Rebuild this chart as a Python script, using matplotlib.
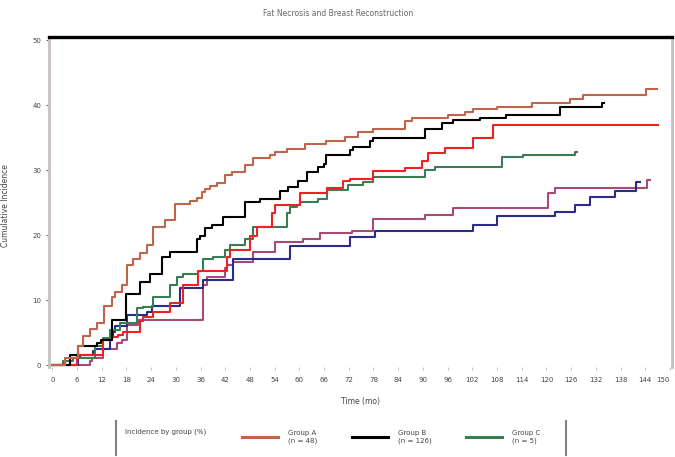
import matplotlib
matplotlib.use("Agg")
import matplotlib.pyplot as plt
from matplotlib.lines import Line2D

# ---- data (months, cumulative %) ----
brown_x = [0, 3.2, 6.3, 7.5, 9.2, 10.9, 12.6, 14.6, 15.3, 17.0, 18.2, 19.7, 21.4, 23.1, 24.5, 27.4, 29.9,
           33.5, 35.2, 36.4, 37.1, 38.3, 40.0, 42.0, 43.7, 46.8, 48.8, 52.9, 54.1, 57.0, 61.4, 66.5, 71.1,
           74.3, 77.9, 85.7, 87.4, 96.1, 100.2, 102.2, 108.0, 116.5, 125.7, 128.9, 144.2, 146.8]
brown_y = [0, 1.1, 2.9, 4.5, 5.5, 6.5, 9.1, 10.5, 11.2, 12.3, 15.4, 16.3, 17.2, 18.5, 21.2, 22.3, 24.8,
           25.2, 25.7, 26.6, 27.1, 27.5, 28.0, 29.2, 29.7, 30.8, 31.8, 32.3, 32.8, 33.2, 34.0, 34.5, 35.1,
           35.8, 36.3, 37.5, 38.0, 38.5, 38.9, 39.4, 39.8, 40.3, 40.9, 41.5, 42.5, 42.5]

black_x = [0, 4.4, 6.3, 10.9, 11.9, 14.6, 18.0, 21.4, 23.8, 26.7, 28.6, 35.2, 35.9, 37.1, 38.8, 41.5, 46.8,
           50.5, 55.3, 57.3, 59.7, 61.9, 64.6, 66.0, 66.5, 72.3, 73.1, 77.2, 77.9, 90.5, 94.7, 97.3, 103.9,
           110.2, 123.3, 133.5, 134.0]
black_y = [0, 1.5, 2.9, 3.4, 3.8, 6.9, 10.9, 12.8, 14.0, 16.6, 17.4, 19.4, 19.8, 21.1, 21.5, 22.8, 25.1,
           25.5, 26.8, 27.4, 28.3, 29.7, 30.5, 31.0, 32.3, 33.1, 33.5, 34.5, 34.9, 36.3, 37.2, 37.7, 38.0,
           38.5, 39.8, 40.3, 40.3]

red_x = [0, 6.1, 12.4, 14.6, 16.0, 17.2, 21.4, 22.1, 24.5, 28.6, 31.8, 35.4, 42.5, 43.2, 48.1, 49.8, 53.4,
         54.1, 60.2, 66.7, 70.6, 72.3, 77.9, 85.7, 89.8, 91.3, 95.4, 102.2, 107.0, 147.1]
red_y = [0, 1.5, 3.8, 4.3, 4.6, 5.1, 6.8, 7.4, 8.2, 9.5, 12.3, 14.5, 16.6, 17.7, 19.8, 21.2, 23.4,
         24.6, 26.5, 27.2, 28.3, 28.6, 29.8, 30.3, 31.4, 32.6, 33.4, 34.9, 36.9, 36.9]

green_x = [0, 2.7, 5.1, 10.4, 12.4, 14.1, 16.5, 20.6, 22.1, 24.5, 28.6, 30.3, 31.8, 35.4, 36.7, 39.1, 42.0,
           43.2, 46.8, 48.8, 57.0, 57.8, 59.5, 60.2, 64.6, 66.7, 71.8, 75.5, 77.9, 90.5, 93.0, 109.2, 114.3,
           126.9, 127.4]
green_y = [0, 0.6, 1.1, 2.9, 4.2, 5.4, 6.5, 8.8, 8.9, 10.5, 12.3, 13.5, 14.0, 14.5, 16.3, 16.6, 17.7,
           18.5, 19.4, 21.2, 23.4, 24.3, 24.6, 25.1, 25.5, 26.9, 27.7, 28.2, 29.0, 30.0, 30.5, 32.0, 32.3,
           32.8, 32.8]

navy_x = [0, 6.3, 6.8, 10.0, 10.4, 14.1, 14.8, 15.3, 18.2, 23.1, 24.3, 31.1, 36.7, 43.9, 57.8, 72.3, 78.4,
          102.2, 108.0, 122.1, 126.9, 130.6, 136.7, 141.7, 142.7]
navy_y = [0, 1.2, 1.5, 2.2, 2.5, 4.3, 5.1, 6.0, 7.7, 8.2, 9.1, 11.8, 13.1, 16.3, 18.3, 19.7, 20.6,
          21.5, 22.9, 23.5, 24.6, 25.8, 26.8, 28.2, 28.2]

plum_x = [0, 9.2, 9.7, 12.4, 15.8, 17.0, 18.2, 20.9, 36.7, 37.6, 42.0, 42.5, 43.9, 48.8, 54.1, 60.9, 65.0,
          72.8, 77.9, 90.5, 97.3, 120.4, 122.1, 144.4, 145.1]
plum_y = [0, 0.6, 1.1, 2.5, 3.4, 3.8, 6.2, 6.9, 12.3, 13.5, 14.9, 15.4, 15.8, 17.4, 18.9, 19.4, 20.3,
          20.6, 22.5, 23.1, 24.2, 26.5, 27.2, 28.5, 28.5]

x_ticks = list(range(0, 151, 6))
y_ticks = [0, 10, 20, 30, 40, 50]

legend_labels = ["Group A\n(n = 48)", "Group B\n(n = 126)", "Group C\n(n = 5)"]

# ---- figure ----
W, H = 675, 457
fig = plt.figure(figsize=(W / 100, H / 100), dpi=100)
ax = fig.add_axes([49 / W, 1 - 367 / H, (672 - 49) / W, (367 - 37) / H])

series = [
    (plum_x, plum_y, "#a84a78"),
    (navy_x, navy_y, "#2b2b8a"),
    (green_x, green_y, "#3a7d55"),
    (red_x, red_y, "#ee2222"),
    (black_x, black_y, "#000000"),
    (brown_x, brown_y, "#c0644c"),
]
for xs, ys, c in series:
    ax.step(xs, ys, where="post", color=c, lw=1.5)

ax.set_xlim(-0.8, 150.5)
ax.set_ylim(-0.3, 50.5)
ax.set_xticks(x_ticks)
ax.set_yticks(y_ticks)
ax.tick_params(axis="both", labelsize=5, colors="#444444", length=2, width=0.6)
ax.tick_params(axis="x", colors="#bbbbbb", labelcolor="#444444", pad=5)
xt = ax.get_xticklabels()
xt[-1].set_ha("right")

for s in ["left", "right"]:
    ax.spines[s].set_color("#c8c0c0")
    ax.spines[s].set_linewidth(2.0)
ax.spines["top"].set_color("#000000")
ax.spines["top"].set_linewidth(2.4)
ax.spines["bottom"].set_visible(False)

ax.set_xlabel("Time (mo)", fontsize=5.5, color="#444444", labelpad=10)
ax.set_ylabel("Cumulative Incidence", fontsize=5.5, color="#444444")
ax.yaxis.set_label_coords(-0.062, 0.49)
fig.text(338 / W, 1 - 14 / H, "Fat Necrosis and Breast Reconstruction", ha="center", va="center",
         fontsize=5.5, color="#666666")

# ---- legend ----
handles = [Line2D([], [], color=c, lw=2.2) for c in ["#c0644c", "#000000", "#3a7d55"]]
leg = fig.legend(handles, legend_labels, loc="center left", ncol=3, frameon=False,
                 bbox_to_anchor=(236 / W, 1 - 437 / H), fontsize=5, handlelength=5.2,
                 columnspacing=5.0, handletextpad=1.4, labelcolor="#444444")
fig.text(125 / W, 1 - 432 / H, "Incidence by group (%)", fontsize=5, color="#444444",
         va="center", ha="left")
for xp in (116, 566):
    fig.add_artist(Line2D([xp / W, xp / W], [1 - 421 / H, 1 - 455 / H], color="#8a8080", lw=1.5))

fig.savefig("out.png", dpi=100)
